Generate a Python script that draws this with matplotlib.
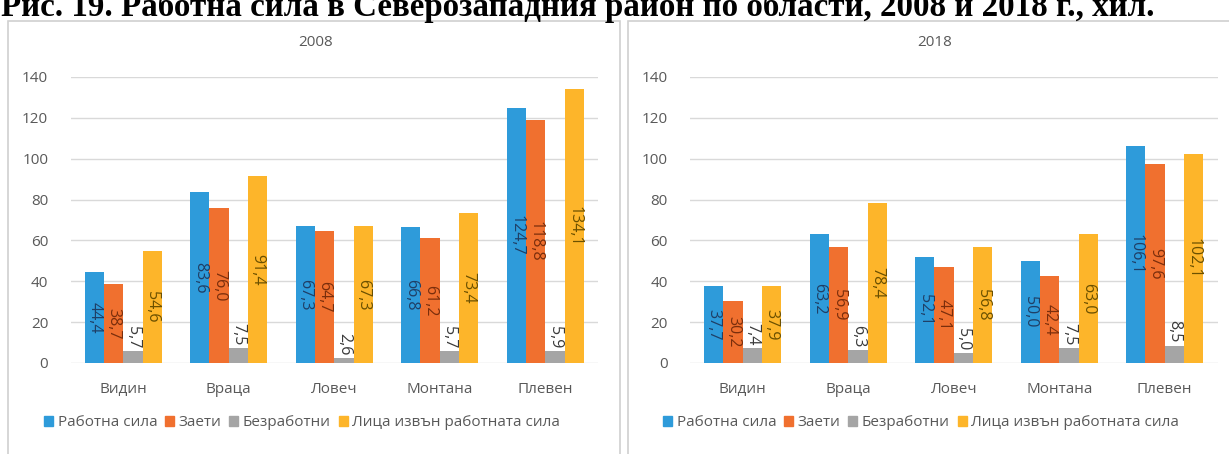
import matplotlib.pyplot as plt
import numpy as np
from matplotlib.patches import Rectangle, Patch

regions = ['Видин', 'Враца', 'Ловеч', 'Монтана', 'Плевен']
series_names = ['Работна сила', 'Заети', 'Безработни', 'Лица извън работната сила']

labour_2008 = [44.4, 83.6, 67.3, 66.8, 124.7]
employed_2008 = [38.7, 76.0, 64.7, 61.2, 118.8]
unemployed_2008 = [5.7, 7.5, 2.6, 5.7, 5.9]
outside_2008 = [54.6, 91.4, 67.3, 73.4, 134.1]

labour_2018 = [37.7, 63.2, 52.1, 50.0, 106.1]
employed_2018 = [30.2, 56.9, 47.1, 42.4, 97.6]
unemployed_2018 = [7.4, 6.3, 5.0, 7.5, 8.5]
outside_2018 = [37.9, 78.4, 56.8, 63.0, 102.1]

years = ['2008', '2018']
yticks = [0, 20, 40, 60, 80, 100, 120, 140]

colors = ['#2E9BDA', '#F0702F', '#A5A5A5', '#FDB52A']
label_colors = ['#1F3F66', '#7A2E0C', '#3A3A3A', '#6B5000']

plt.rcParams['font.family'] = ['Open Sans', 'DejaVu Sans']

W, H = 1229, 454
fig = plt.figure(figsize=(W / 100, H / 100), dpi=100)


def px(x0, y0, w, h):
    # pixel box (from top-left) -> figure fraction
    return [x0 / W, 1 - (y0 + h) / H, w / W, h / H]


# panel frames
for x0, x1 in [(8, 620), (628, 1240)]:
    fig.patches.append(Rectangle((x0 / W, -0.05), (x1 - x0) / W, 1.05 - 21 / H,
                                 transform=fig.transFigure, fill=False,
                                 edgecolor='#D0D0D0', lw=1.2))

fig.text(1 / W, 1 - 16 / H,
         'Рис. 19. Работна сила в Северозападния район по области, 2008 и 2018 г., хил.',
         family='Liberation Serif', weight='bold', fontsize=23.8,
         ha='left', va='baseline', color='black')

data = {
    '2008': [labour_2008, employed_2008, unemployed_2008, outside_2008],
    '2018': [labour_2018, employed_2018, unemployed_2018, outside_2018],
}

x = np.arange(len(regions))
w = 0.183
offsets = [-1.5 * w, -0.5 * w, 0.5 * w, 1.5 * w]

for yr, left, panel_c in zip(years, [70.5, 690], [316, 935]):
    ax = fig.add_axes(px(left, 77, 527.5, 286))
    for k, vals in enumerate(data[yr]):
        ax.bar(x + offsets[k], vals, w, color=colors[k], zorder=3)
        for xi, v in zip(x + offsets[k], vals):
            s = f'{v:.1f}'.replace('.', ',')
            if k == 2:
                ax.annotate(s, (xi, v), xytext=(0, 2), textcoords='offset points',
                            rotation=270, ha='center', va='bottom',
                            fontsize=11.5, color=label_colors[k])
            else:
                ax.text(xi, v / 2, s, rotation=270, ha='center', va='center',
                        fontsize=11.5, color=label_colors[k], zorder=4)
    ax.set_xlim(-0.5, 4.5)
    ax.set_ylim(0, 140)
    ax.set_yticks(yticks)
    ax.set_xticks(x)
    ax.set_xticklabels(regions)
    ax.grid(axis='y', color='#D9D9D9', lw=1, zorder=0)
    for sp in ax.spines.values():
        sp.set_visible(False)
    ax.tick_params(length=0, labelsize=11, colors='#595959')
    ax.tick_params(axis='y', pad=16)
    ax.tick_params(axis='x', pad=14)
    ax.set_facecolor('none')

    fig.text(panel_c / W, 1 - 43 / H, yr, ha='center', va='center',
             fontsize=11, color='#595959')

    handles = [Patch(color=c) for c in colors]
    fig.legend(handles, series_names, loc='center', ncol=4,
               bbox_to_anchor=((panel_c - 14) / W, 1 - 423 / H), frameon=False,
               handlelength=0.6, handleheight=0.6, handletextpad=0.3,
               columnspacing=0.5, fontsize=11, labelcolor='#595959')

fig.savefig('out.png', dpi=100)
